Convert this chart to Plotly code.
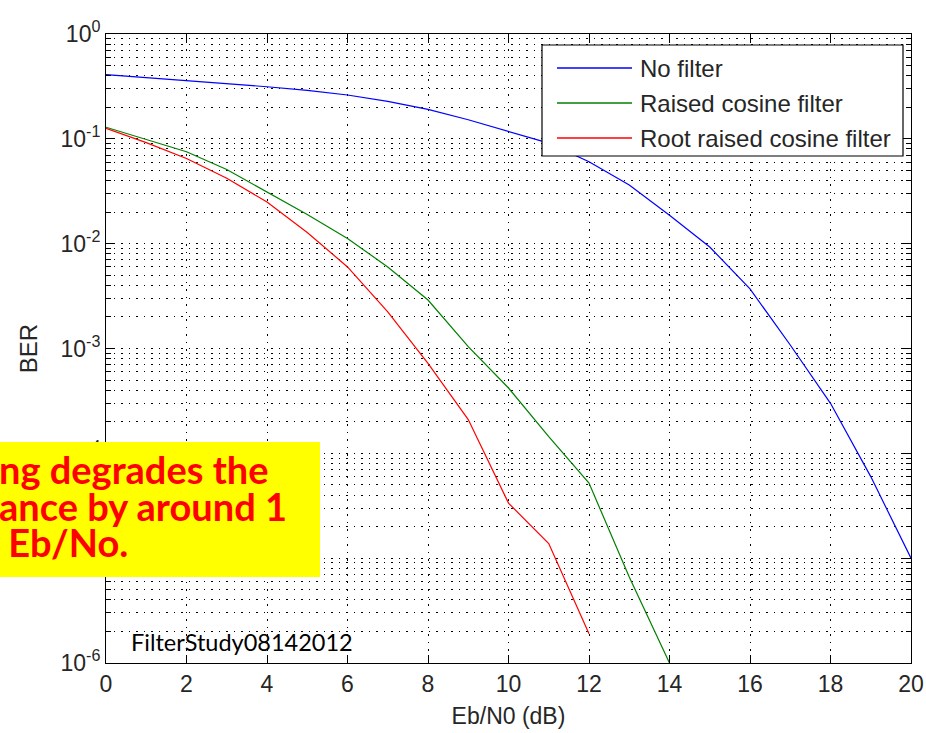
import plotly.graph_objects as go

# ---------------- data ----------------
ebn0 = list(range(0, 21))
ber_no_filter = [0.41, 0.385, 0.358, 0.336, 0.314, 0.29, 0.262, 0.228, 0.191, 0.152,
                 0.117, 0.091, 0.0604, 0.0362, 0.0187, 0.0093, 0.0037, 0.00108,
                 0.0003, 6e-5, 1e-5]
ebn0_rc = list(range(0, 15))
ber_raised_cosine = [0.129, 0.099, 0.0753, 0.051, 0.031, 0.019, 0.0112, 0.006,
                     0.0029, 1.04e-3, 4.2e-4, 1.44e-4, 5.2e-5, 6.6e-6, 1e-6]
ebn0_rrc = list(range(0, 13))
ber_root_raised = [0.126, 0.092, 0.065, 0.042, 0.025, 0.0128, 0.006, 0.00224,
                   0.00072, 2.1e-4, 3.35e-5, 1.38e-5, 1.9e-6]

series_names = ["No filter", "Raised cosine filter", "Root raised cosine filter"]
series_colors = ["#0000FF", "#008000", "#FF0000"]

x_ticks = [0, 2, 4, 6, 8, 10, 12, 14, 16, 18, 20]
y_exponents = [-6, -5, -4, -3, -2, -1, 0]
y_tick_vals = [10.0 ** e for e in y_exponents]
y_tick_text = ["10<sup>%d</sup>" % e for e in y_exponents]
y_minor_vals = [m * 10.0 ** e for e in y_exponents[:-1] for m in range(2, 10)]

note_lines = ["ng degrades the", "ance by around 1", " Eb/No."]
watermark = "FilterStudy08142012"

# ---------------- layout helpers ----------------
W, H = 926, 733
L, R, T, B = 106, 911, 34, 663


def px(xp):
    return (xp - L) / (R - L)


def py(yp):
    return (B - yp) / (B - T)


fig = go.Figure()
xs = [ebn0, ebn0_rc, ebn0_rrc]
ys = [ber_no_filter, ber_raised_cosine, ber_root_raised]
for xv, yv, name, col in zip(xs, ys, series_names, series_colors):
    fig.add_trace(go.Scatter(x=xv, y=yv, mode="lines", name=name,
                             line=dict(color=col, width=1.2), showlegend=False))

FONT = "Liberation Sans, Arial, sans-serif"
TXT = "#262626"
dots = "1.5px,6px"

fig.update_layout(
    width=W, height=H,
    margin=dict(l=L, r=W - R, t=T, b=H - B, autoexpand=False),
    paper_bgcolor="white", plot_bgcolor="white",
    font=dict(family=FONT, size=23, color=TXT),
    xaxis=dict(
        range=[0, 20], tickvals=x_ticks, ticks="inside", ticklen=8,
        showline=True, linecolor="black", linewidth=1, mirror="ticks",
        tickcolor="black", showgrid=True, gridcolor="black", gridwidth=1,
        griddash=dots, zeroline=False, automargin=False,
        title=dict(text="Eb/N0 (dB)", standoff=12, font=dict(family=FONT, size=23, color=TXT)),
        tickfont=dict(family=FONT, size=23, color=TXT),
    ),
    yaxis=dict(
        type="log", range=[-6, 0], tickmode="array", tickvals=y_tick_vals,
        ticktext=y_tick_text, ticks="inside", ticklen=8,
        showline=True, linecolor="black", linewidth=1, mirror="ticks",
        tickcolor="black", showgrid=True, gridcolor="black", gridwidth=1,
        griddash=dots, zeroline=False, automargin=False,
        minor=dict(tickmode="array", tickvals=y_minor_vals, ticks="inside",
                   ticklen=5, tickcolor="black", showgrid=True,
                   gridcolor="black", gridwidth=1, griddash=dots),
        title=dict(text="BER", standoff=16, font=dict(family=FONT, size=24, color=TXT)),
        tickfont=dict(family=FONT, size=23, color=TXT),
    ),
)

# manual legend box
shapes = [dict(type="rect", xref="paper", yref="paper", x0=px(542), x1=px(903),
               y0=py(156), y1=py(45), fillcolor="white",
               line=dict(color="black", width=1.2), layer="above")]
annotations = []
row_y = [68, 103, 138]
for name, col, ry in zip(series_names, series_colors, row_y):
    shapes.append(dict(type="line", xref="paper", yref="paper", x0=px(557), x1=px(632),
                       y0=py(ry), y1=py(ry), line=dict(color=col, width=1.5),
                       layer="above"))
    annotations.append(dict(xref="paper", yref="paper", x=px(638), y=py(ry),
                            xanchor="left", yanchor="middle", text=name,
                            showarrow=False, font=dict(family=FONT, size=24, color=TXT)))

# yellow note box
shapes.append(dict(type="rect", xref="paper", yref="paper", x0=px(0), x1=px(320),
                   y0=py(577), y1=py(442), fillcolor="#FFFF00",
                   line=dict(width=0), layer="above"))
for line, ly in zip(note_lines, [469, 506, 542]):
    annotations.append(dict(xref="paper", yref="paper", x=px(-3), y=py(ly),
                            xanchor="left", yanchor="middle", text="<b>%s</b>" % line,
                            showarrow=False,
                            font=dict(family="Lato, Open Sans, sans-serif", size=38,
                                      color="#FF0000")))

annotations.append(dict(xref="paper", yref="paper", x=px(129), y=py(642),
                        xanchor="left", yanchor="middle", text=watermark,
                        showarrow=False,
                        font=dict(family="Lato, Open Sans, sans-serif", size=23.5,
                                  color="black")))

fig.update_layout(shapes=shapes, annotations=annotations)
fig.write_html("out.html", config={"displayModeBar": False},
               post_script="document.body.style.margin='0px';document.body.style.overflow='hidden';")
